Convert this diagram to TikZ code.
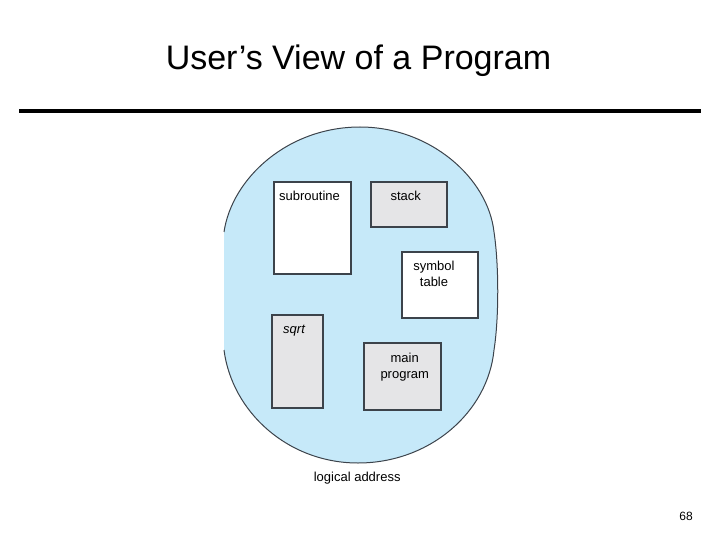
\documentclass[tikz,border=0pt]{standalone}
\usepackage{fontspec}
\setmainfont{Liberation Sans}
\definecolor{segblue}{HTML}{C6E9F9}
\definecolor{seggray}{HTML}{E5E5E7}
\definecolor{segline}{HTML}{3C434B}
\begin{document}
\begin{tikzpicture}[x=1pt,y=-1pt,
    seg/.style={rectangle,draw=segline,line width=1.3pt,inner sep=0pt},
    lbl/.style={inner sep=0pt,font=\fontsize{13}{16}\selectfont,align=center}
]
\useasboundingbox (0,0) rectangle (720,540);
% title and rule
\node[font=\fontsize{34}{40}\selectfont,anchor=base] (title) at (358.5,70) {User’s View of a Program};
\coordinate (rl) at (19,110.7);
\coordinate (rr) at (701,110.7);
\draw[line width=4pt] (rl) -- (rr);

% address space (left side cut straight, no outline there)
\fill[segblue] (224,232) .. controls (232,178) and (288,127) .. (360,127)
    .. controls (430,127) and (488,178) .. (494,232)
    .. controls (499,265) and (499,318) .. (494,350)
    .. controls (488,412) and (430,463) .. (358,463)
    .. controls (288,463) and (232,412) .. (224,350) -- cycle;
\draw[segline,line width=1pt] (224,350) .. controls (232,412) and (288,463) .. (358,463)
    .. controls (430,463) and (488,412) .. (494,350)
    .. controls (499,318) and (499,265) .. (494,232)
    .. controls (488,178) and (430,127) .. (360,127)
    .. controls (288,127) and (232,178) .. (224,232);

% segments
\node[seg,fill=white,minimum width=77pt,minimum height=92pt] (sub) at (312.5,228) {};
\node[seg,fill=seggray,minimum width=76pt,minimum height=45pt] (stk) at (409,204.5) {};
\node[seg,fill=white,minimum width=76pt,minimum height=66pt] (sym) at (440,285) {};
\node[seg,fill=seggray,minimum width=51pt,minimum height=93pt] (sqr) at (297.5,361.5) {};
\node[seg,fill=seggray,minimum width=77pt,minimum height=67pt] (mainp) at (402.5,376.5) {};

% labels
\node[lbl,anchor=base west] (subtx) at (279,201) {subroutine};
\node[lbl,anchor=base] (stktx) at (405.7,201) {stack};
\node[lbl,anchor=north] (symtx) at (434,261) {symbol\\table};
\node[lbl,anchor=base west] (sqrtx) at (283,333) {\textit{sqrt}};
\node[lbl,anchor=north] (maintx) at (404.7,352.5) {main\\program};
\node[lbl,anchor=base] (addrtx) at (357.2,481.7) {logical address};

% page number
\node[font=\fontsize{12}{14}\selectfont,anchor=base] (pgno) at (686,520) {68};
\end{tikzpicture}
\end{document}
